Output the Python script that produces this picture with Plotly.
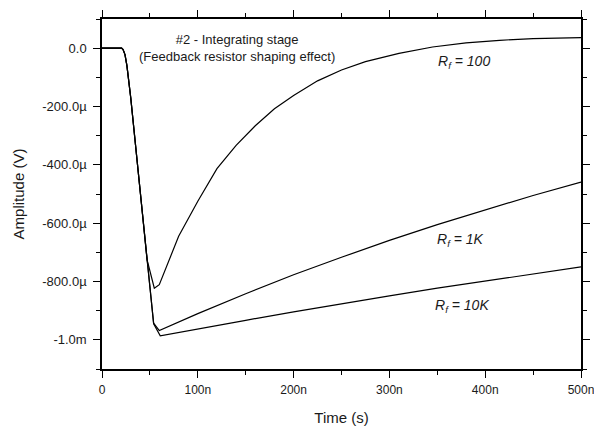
import plotly.graph_objects as go

# Time in ns, amplitude in mV
t_r100 = [0, 20.5, 22, 24, 26, 28, 30, 40, 47, 54.6, 59.8, 80, 100, 120, 140, 160, 180, 200,
          225, 250, 275, 310, 345, 380, 415, 450, 500]
v_r100 = [0, 0, -0.005, -0.022, -0.06, -0.11, -0.17, -0.495, -0.725, -0.823, -0.811, -0.645,
          -0.525, -0.413, -0.333, -0.266, -0.208, -0.162, -0.112, -0.075, -0.046, -0.018,
          0.004, 0.018, 0.027, 0.033, 0.036]

t_r1k = [0, 20.5, 22, 24, 26, 28, 30, 40, 47, 53.9, 59.8, 100, 150, 200, 250, 300, 350, 400, 450, 500]
v_r1k = [0, 0, -0.005, -0.022, -0.06, -0.11, -0.17, -0.495, -0.725, -0.943, -0.968, -0.910,
         -0.842, -0.777, -0.717, -0.659, -0.605, -0.554, -0.505, -0.459]

t_r10k = [0, 20.5, 22, 24, 26, 28, 30, 40, 47, 53.9, 60.8, 100, 150, 200, 250, 300, 350, 400, 450, 500]
v_r10k = [0, 0, -0.005, -0.022, -0.06, -0.11, -0.17, -0.495, -0.725, -0.945, -0.986, -0.962,
          -0.933, -0.904, -0.876, -0.849, -0.823, -0.798, -0.773, -0.750]

x_tickvals = [0, 100, 200, 300, 400, 500]
x_ticktext = ["0", "100n", "200n", "300n", "400n", "500n"]
x_minor = [50, 150, 250, 350, 450]
y_tickvals = [0, -0.2, -0.4, -0.6, -0.8, -1.0]
y_ticktext = ["0.0", "-200.0µ", "-400.0µ", "-600.0µ", "-800.0µ", "-1.0m"]
y_minor = [0.1, -0.1, -0.3, -0.5, -0.7, -0.9, -1.1]

labels = ["<i>R<sub>f</sub> = 100</i>", "<i>R<sub>f</sub> = 1K</i>", "<i>R<sub>f</sub> = 10K</i>"]
label_x = [378, 374, 376]
label_y = [-0.047, -0.657, -0.885]

FONT = "Liberation Sans, Arial, Helvetica, sans-serif"
INK = "#1a1a1a"

fig = go.Figure()
for t, v in [(t_r100, v_r100), (t_r1k, v_r1k), (t_r10k, v_r10k)]:
    fig.add_trace(go.Scatter(x=t, y=v, mode="lines",
                             line=dict(color="black", width=1.2), showlegend=False))

axis_common = dict(showline=True, linecolor="black", linewidth=1.5, mirror="ticks",
                   ticks="outside", ticklen=7, tickwidth=1.2, tickcolor="black",
                   showgrid=False, zeroline=False, automargin=False,
                   ticklabeloverflow="allow")

fig.update_xaxes(range=[0, 500], tickmode="array", tickvals=x_tickvals, ticktext=x_ticktext,
                 minor=dict(tickmode="array", tickvals=x_minor, ticks="outside", ticklen=4,
                            tickwidth=1.2, tickcolor="black"),
                 ticklabelstandoff=2,
                 tickfont=dict(family=FONT, size=12, color=INK),
                 title=dict(text="Time (s)", font=dict(family=FONT, size=15, color=INK), standoff=18),
                 **axis_common)
fig.update_yaxes(range=[-1.1, 0.1], tickmode="array", tickvals=y_tickvals, ticktext=y_ticktext,
                 minor=dict(tickmode="array", tickvals=y_minor, ticks="outside", ticklen=4,
                            tickwidth=1.2, tickcolor="black"),
                 ticklabelstandoff=4,
                 tickfont=dict(family=FONT, size=13, color=INK),
                 title=dict(text="Amplitude (V)", font=dict(family=FONT, size=15, color=INK), standoff=14),
                 **axis_common)

fig.add_annotation(x=141, y=0.0, xref="x", yref="y", showarrow=False,
                   text="#2 - Integrating stage<br>(Feedback resistor shaping effect)",
                   font=dict(family=FONT, size=13, color=INK), align="center")
for txt, lx, ly in zip(labels, label_x, label_y):
    fig.add_annotation(x=lx, y=ly, xref="x", yref="y", showarrow=False, text=txt,
                       font=dict(family=FONT, size=14, color=INK))

fig.update_layout(width=594, height=426, margin=dict(l=102, r=13, t=19, b=57),
                  paper_bgcolor="white", plot_bgcolor="white",
                  font=dict(family=FONT, color=INK))

fig.write_html("out.html")
